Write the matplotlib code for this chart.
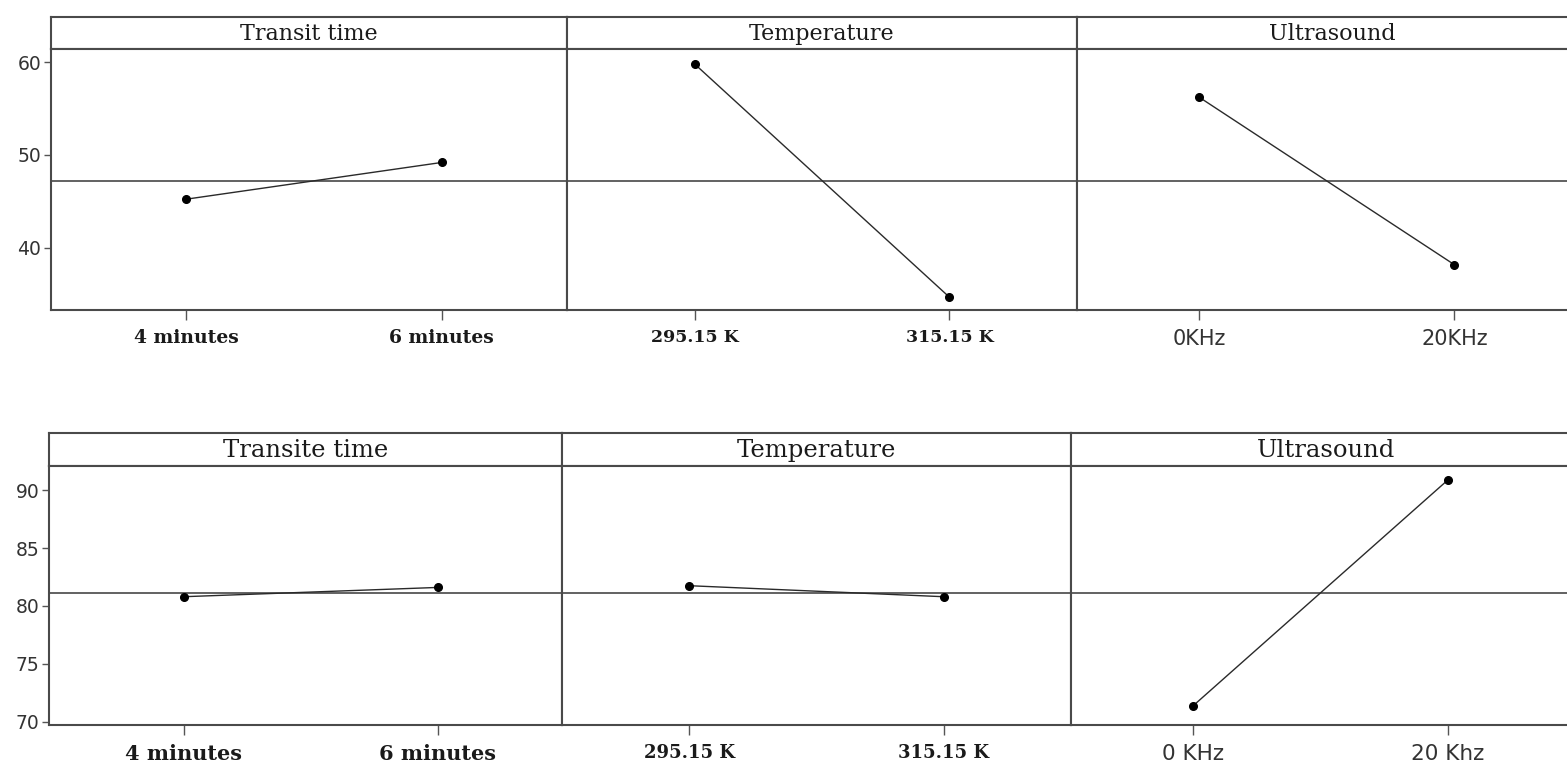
import matplotlib
matplotlib.use("Agg")
import matplotlib.pyplot as plt

# ---------------- data ----------------
factors_top = ["Transit time", "Temperature", "Ultrasound"]
levels_top = [["4 minutes", "6 minutes"], ["295.15 K", "315.15 K"], ["0KHz", "20KHz"]]
means_top = [[45.25, 49.2], [59.8, 34.7], [56.2, 38.2]]
grand_mean_top = 47.15
yticks_top = [40, 50, 60]

factors_bottom = ["Transite time", "Temperature", "Ultrasound"]
levels_bottom = [["4 minutes", "6 minutes"], ["295.15 K", "315.15 K"], ["0 KHz", "20 Khz"]]
means_bottom = [[80.8, 81.6], [81.75, 80.8], [71.4, 90.85]]
grand_mean_bottom = 81.15
yticks_bottom = [70, 75, 80, 85, 90]

# ---------------- layout (pixels) ----------------
W, H = 1567, 767
fig = plt.figure(figsize=(W / 100, H / 100), dpi=100)
fig.patch.set_facecolor("white")

FRAME = "#4a4a4a"
LINE = "#2a2a2a"
SERIF = "DejaVu Serif"
SANS = "DejaVu Sans"
PANEL_XLIMS = [(-0.53, 1.49), (-0.5, 1.5), (-0.48, 1.52)]


def add_px_axes(x0, x1, ytop, ybot):
    return fig.add_axes([x0 / W, 1 - ybot / H, (x1 - x0) / W, (ybot - ytop) / H])


rows = [
    dict(factors=factors_top, levels=levels_top, means=means_top, gm=grand_mean_top,
         yticks=yticks_top, ylim=(33.33, 61.40), xs=[51, 567, 1077, 1587],
         frame_top=17, head_bot=49, axis_bot=310, head_fs=16, xl_fs=13.5, xl_sans=15,
         xl_k_fs=12.5),
    dict(factors=factors_bottom, levels=levels_bottom, means=means_bottom, gm=grand_mean_bottom,
         yticks=yticks_bottom, ylim=(69.74, 92.07), xs=[49, 562, 1071, 1580],
         frame_top=433, head_bot=466, axis_bot=725, head_fs=17.5, xl_fs=15, xl_sans=15.5,
         xl_k_fs=13),
]

for row in rows:
    for j in range(3):
        x0, x1 = row["xs"][j], row["xs"][j + 1]
        # header strip
        hax = add_px_axes(x0, x1, row["frame_top"], row["head_bot"])
        hax.set_xticks([])
        hax.set_yticks([])
        for s in hax.spines.values():
            s.set_color(FRAME)
            s.set_linewidth(1.5)
        hax.text(0.5, 0.48, row["factors"][j], transform=hax.transAxes, ha="center",
                 va="center", fontsize=row["head_fs"], family=SERIF, color="#1a1a1a")

        # panel
        ax = add_px_axes(x0, x1, row["head_bot"], row["axis_bot"])
        for s in ax.spines.values():
            s.set_color(FRAME)
            s.set_linewidth(1.5)
        ax.set_xlim(*PANEL_XLIMS[j])
        ax.set_ylim(*row["ylim"])
        ax.axhline(row["gm"], color="#555555", linewidth=1.3, zorder=1)
        ax.plot([0, 1], row["means"][j], color=LINE, linewidth=1.0, marker="o",
                markersize=5.5, markerfacecolor="black", markeredgecolor="black", zorder=3)
        ax.set_xticks([0, 1])
        ax.set_xticklabels(row["levels"][j])
        ax.tick_params(axis="x", length=7, width=1, color="#555555", pad=7,
                       labelcolor="#1a1a1a")
        for lab in ax.get_xticklabels():
            if j == 2:
                lab.set_family(SANS)
                lab.set_fontsize(row["xl_sans"])
                lab.set_color("#333333")
            elif j == 1:
                lab.set_family(SERIF)
                lab.set_fontweight("bold")
                lab.set_fontsize(row["xl_k_fs"])
            else:
                lab.set_family(SERIF)
                lab.set_fontweight("bold")
                lab.set_fontsize(row["xl_fs"])
        if j == 0:
            ax.set_yticks(row["yticks"])
            ax.tick_params(axis="y", length=5, width=1, color="#555555", pad=2,
                           labelsize=13.5, labelcolor="#333333")
        else:
            ax.set_yticks([])

fig.savefig("out.png", dpi=100, facecolor="white")
